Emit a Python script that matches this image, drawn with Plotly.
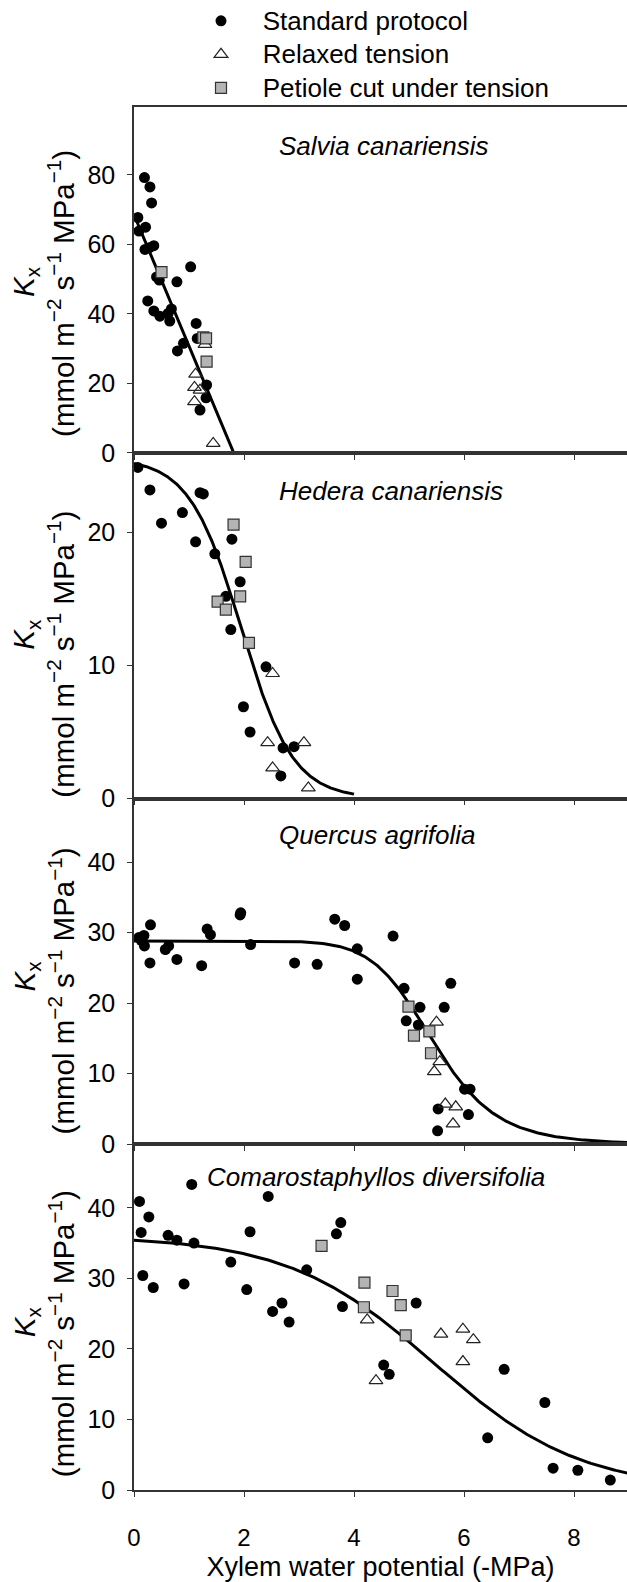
import numpy as np
import plotly.graph_objects as go
from plotly.subplots import make_subplots

# ---------------- data ----------------
# Panel 1: Salvia canariensis
sal_std_x = [0.19, 0.29, 0.32, 0.07, 0.09, 0.21, 0.20, 0.36, 0.28, 0.41, 0.46, 0.78, 1.03, 0.25, 0.36, 0.47,
             0.62, 0.65, 0.68, 1.13, 0.90, 0.79, 1.15, 1.32, 1.31, 1.20]
sal_std_y = [79.2, 76.5, 71.9, 67.7, 63.8, 64.9, 58.5, 59.6, 59.0, 50.6, 49.7, 49.2, 53.5, 43.7, 40.8, 39.3,
             40.1, 37.9, 41.4, 37.2, 31.5, 29.3, 32.9, 19.5, 15.8, 12.3]
sal_cut_x = [0.50, 1.26, 1.31, 1.32]
sal_cut_y = [52.0, 33.2, 32.9, 26.2]
sal_rel_x = [1.29, 1.12, 1.10, 1.20, 1.10, 1.44]
sal_rel_y = [31.2, 22.6, 18.8, 18.0, 14.7, 2.7]
sal_fit = dict(k0=68.5, slope=37.8, xmax=2.0)

# Panel 2: Hedera canariensis
hed_std_x = [0.07, 0.29, 0.50, 0.88, 1.20, 1.26, 1.12, 1.47, 1.78, 1.93, 1.67, 1.76, 2.40, 1.99, 2.11, 2.71,
             2.91, 2.67]
hed_std_y = [24.9, 23.2, 20.7, 21.5, 23.0, 22.9, 19.3, 18.4, 19.5, 16.3, 15.2, 12.7, 9.9, 6.9, 5.0, 3.8,
             3.9, 1.7]
hed_cut_x = [1.81, 2.03, 1.93, 1.52, 1.67, 2.09]
hed_cut_y = [20.6, 17.8, 15.2, 14.8, 14.2, 11.7]
hed_rel_x = [2.52, 2.43, 3.09, 2.52, 3.17]
hed_rel_y = [9.4, 4.2, 4.2, 2.3, 0.8]
hed_fit = dict(kmax=25.6, x50=1.95, b=2.12, xmax=4.0)

# Panel 3: Quercus agrifolia
que_std_x = [0.18, 0.13, 0.19, 0.09, 0.30, 0.29, 0.57, 0.63, 0.78, 1.23, 1.33, 1.39, 1.94, 1.93, 2.12, 2.92,
             3.33, 3.65, 3.83, 4.06, 4.06, 4.71, 4.91, 4.95, 5.20, 5.17, 5.64, 5.76, 6.01, 6.11, 6.08,
             5.53, 5.52]
que_std_y = [29.6, 28.9, 28.1, 29.3, 31.1, 25.7, 27.6, 28.1, 26.2, 25.3, 30.5, 29.7, 32.8, 32.5, 28.3, 25.7,
             25.5, 31.9, 31.0, 27.7, 23.4, 29.5, 22.1, 17.5, 19.4, 16.9, 19.4, 22.8, 7.8, 7.8, 4.2,
             5.0, 1.9]
que_cut_x = [4.99, 5.09, 5.37, 5.40]
que_cut_y = [19.5, 15.4, 16.0, 12.9]
que_rel_x = [5.50, 5.56, 5.46, 5.66, 5.85, 5.80]
que_rel_y = [17.3, 11.7, 10.3, 5.7, 5.3, 2.9]
que_fit = dict(kmax=28.8, x50=5.45, n=9.5, xmax=9.0)

# Panel 4: Comarostaphyllos diversifolia
com_std_x = [0.10, 0.13, 0.27, 0.16, 0.35, 0.62, 0.78, 1.09, 0.91, 1.05, 1.76, 2.11, 2.05, 2.44, 2.52, 2.69,
             2.82, 3.14, 3.68, 3.76, 3.79, 5.13, 4.54, 4.64, 6.73, 6.43, 7.47, 7.62, 8.07, 8.66]
com_std_y = [40.9, 36.5, 38.7, 30.4, 28.7, 36.1, 35.4, 35.0, 29.2, 43.3, 32.3, 36.6, 28.4, 41.6, 25.3, 26.5,
             23.8, 31.2, 36.3, 37.9, 26.0, 26.5, 17.7, 16.4, 17.1, 7.4, 12.4, 3.1, 2.8, 1.4]
com_cut_x = [3.41, 4.19, 4.70, 4.85, 4.18, 4.94]
com_cut_y = [34.6, 29.4, 28.2, 26.2, 25.9, 21.9]
com_rel_x = [4.24, 5.58, 5.98, 6.17, 5.98, 4.40]
com_rel_y = [24.1, 22.1, 22.8, 21.3, 18.2, 15.5]
com_fit = dict(kmax=36.0, x50=5.45, b=0.75, xmax=9.0)

species = ["Salvia canariensis", "Hedera canariensis", "Quercus agrifolia", "Comarostaphyllos diversifolia"]
y_ranges = [[0, 99.5], [0, 26], [0, 49], [0, 49]]
y_dticks = [20, 10, 10, 10]
x_ticks = [0, 2, 4, 6, 8]
legend_names = ["Standard protocol", "Relaxed tension", "Petiole cut under tension"]

# ---------------- fitted curves (model evaluation) ----------------
def curve_linear(p):
    x = np.linspace(0, p["xmax"], 200)
    return x, np.maximum(0, p["k0"] - p["slope"] * x)

def curve_logistic(p):
    x = np.linspace(0, p["xmax"], 300)
    return x, p["kmax"] / (1 + np.exp(p["b"] * (x - p["x50"])))

def curve_loglogistic(p):
    x = np.linspace(0, p["xmax"], 300)
    return x, p["kmax"] / (1 + (x / p["x50"]) ** p["n"])

panels = [
    (sal_std_x, sal_std_y, sal_rel_x, sal_rel_y, sal_cut_x, sal_cut_y, curve_linear(sal_fit)),
    (hed_std_x, hed_std_y, hed_rel_x, hed_rel_y, hed_cut_x, hed_cut_y, curve_logistic(hed_fit)),
    (que_std_x, que_std_y, que_rel_x, que_rel_y, que_cut_x, que_cut_y, curve_loglogistic(que_fit)),
    (com_std_x, com_std_y, com_rel_x, com_rel_y, com_cut_x, com_cut_y, curve_logistic(com_fit)),
]

FONT = "Liberation Sans, Arial, Helvetica, sans-serif"
W, H = 627, 1582
ML, MR, MT = 134, 0, 107
MB = H - 1490
PW = W - ML - MR
plot_h = H - MT - MB
panel_h = plot_h / 4

fig = make_subplots(rows=4, cols=1, shared_xaxes=False, vertical_spacing=0)

NB = "\u00a0\u00a0\u00a0"
def lname(s):
    return f'<span style="font-size:26px">{NB}{s}</span>'

for i, (sx, sy, rx, ry, cx, cy, (fx, fy)) in enumerate(panels):
    r = i + 1
    show = (i == 0)
    fig.add_trace(go.Scatter(x=fx, y=fy, mode="lines", line=dict(color="black", width=3),
                             showlegend=False, hoverinfo="skip"), row=r, col=1)
    fig.add_trace(go.Scatter(x=sx, y=sy, mode="markers", name=lname(legend_names[0]),
                             marker=dict(symbol="circle", size=11, color="black"),
                             showlegend=show), row=r, col=1)
    fig.add_trace(go.Scatter(x=rx, y=ry, mode="markers", name=lname(legend_names[1]),
                             marker=dict(symbol="triangle-up-open", size=12, color="#222",
                                         line=dict(width=1.2)),
                             showlegend=show), row=r, col=1)
    fig.add_trace(go.Scatter(x=cx, y=cy, mode="markers", name=lname(legend_names[2]),
                             marker=dict(symbol="square", size=11, color="#b4b4b4",
                                         line=dict(color="#333", width=1.2)),
                             showlegend=show), row=r, col=1)

x_max = PW / 55.0
for i in range(4):
    r = i + 1
    fig.update_xaxes(row=r, col=1, range=[0, x_max], tickvals=x_ticks, automargin=False,
                     showticklabels=(r == 4), ticks="outside", ticklen=5, tickwidth=1.2,
                     ticklabelstandoff=20,
                     tickcolor="#333", showline=True, linecolor="#333", linewidth=1.5, mirror=True,
                     showgrid=False, zeroline=False,
                     tickfont=dict(family=FONT, size=24, color="black"))
    fig.update_yaxes(row=r, col=1, range=y_ranges[i], dtick=y_dticks[i], tick0=0, automargin=False,
                     ticks="outside", ticklen=5, tickwidth=1.2, tickcolor="#333",
                     ticklabelstandoff=7,
                     showline=True, linecolor="#333", linewidth=1.5, mirror=False,
                     showgrid=False, zeroline=False,
                     tickfont=dict(family=FONT, size=25, color="black"))

fig.update_xaxes(row=4, col=1, title=dict(text="Xylem water potential (-MPa)",
                                          font=dict(family=FONT, size=27, color="black"), standoff=16))

annotations = []
title_x = [2.6, 2.6, 2.6, 1.29]
title_dy = [39, 38, 36, 33]
k_off = [2, 9, 5, 5]
m_off = [14, 29, 20, 17]
K_X, M_X = 26, 61   # page-pixel centres of the two y-title lines
for i in range(4):
    top_px = MT + i * panel_h
    xa = "x" if i == 0 else f"x{i+1}"
    annotations.append(dict(text=f"<i>{species[i]}</i>", x=title_x[i], xref=xa,
                            y=1 - (top_px + title_dy[i] - MT) / plot_h, yref="paper",
                            xanchor="left", yanchor="middle", showarrow=False,
                            font=dict(family=FONT, size=26, color="black")))
    cy_px = top_px + panel_h / 2
    annotations.append(dict(text="<i>K</i><sub>x</sub>", x=-(ML - K_X) / PW, xref="paper",
                            y=1 - (cy_px + k_off[i] - MT) / plot_h, yref="paper", textangle=-90,
                            xanchor="center", yanchor="middle", showarrow=False, borderpad=0,
                            font=dict(family=FONT, size=29.5, color="black")))
    annotations.append(dict(text="(mmol m<sup>\u22122</sup> s<sup>\u22121</sup> MPa<sup>\u22121</sup>)",
                            x=-(ML - M_X) / PW, xref="paper",
                            y=1 - (cy_px + m_off[i] - MT) / plot_h, yref="paper", textangle=-90,
                            xanchor="center", yanchor="middle", showarrow=False, borderpad=0,
                            font=dict(family=FONT, size=29.5, color="black")))

fig.update_layout(
    width=W, height=H, margin=dict(l=ML, r=MR, t=MT, b=MB, autoexpand=False),
    paper_bgcolor="white", plot_bgcolor="white",
    font=dict(family=FONT, size=24, color="black"),
    annotations=annotations, hovermode=False,
    legend=dict(x=(201 - ML) / PW, y=1 + (MT + 1) / plot_h, xanchor="left", yanchor="top",
                font=dict(family=FONT, size=23.5, color="black"), bgcolor="rgba(0,0,0,0)",
                tracegroupgap=0, itemclick=False),
)

fig.write_html("out.html", config={"displayModeBar": False, "staticPlot": False},
               post_script="document.body.style.margin='0px';document.body.style.overflow='hidden';")
